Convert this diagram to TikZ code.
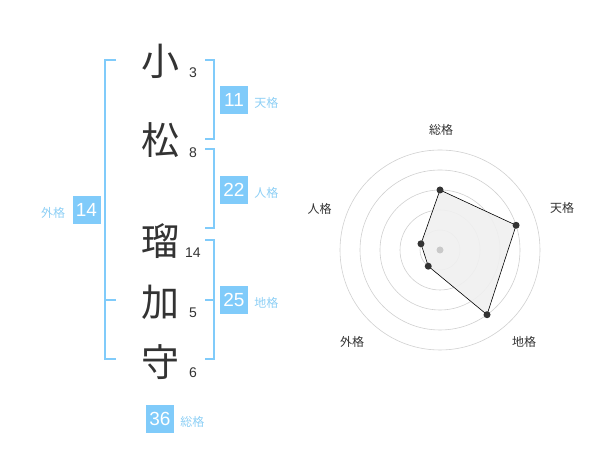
\documentclass[tikz,border=0pt]{standalone}
\usepackage{fontspec}
\setmainfont{Liberation Sans}
\newfontfamily\jp{Noto Sans CJK JP}
\usetikzlibrary{positioning}
\definecolor{kakublue}{HTML}{80CBFA}
\definecolor{kakutext}{HTML}{8DCFF5}
\definecolor{ringgray}{HTML}{D0D0D0}
\definecolor{ink}{HTML}{333333}

\begin{document}
\begin{tikzpicture}[x=1pt,y=1pt,
  kanji/.style={inner sep=0pt,text=ink,font=\jp\fontsize{38}{38}\selectfont},
  strokes/.style={inner sep=0pt,text=ink,font=\fontsize{14}{14}\selectfont},
  numbox/.style={fill=kakublue,text=white,minimum width=28pt,minimum height=28pt,inner sep=0pt,font=\fontsize{19}{19}\selectfont},
  tag/.style={inner sep=0pt,yshift=-3pt,text=kakutext,font=\jp\fontsize{12}{12}\selectfont},
  bracket/.style={draw=kakublue,line width=2pt},
  ring/.style={draw=ringgray,line width=0.6pt},
  vertex/.style={circle,fill=ink,inner sep=0pt,minimum size=7pt},
  axis/.style={inner sep=0pt,text=ink,font=\jp\fontsize{12}{12}\selectfont}]
  \useasboundingbox (0,0) rectangle (600,470);

  % name
  \node[kanji] (k1) at (160,409) {小};
  \node[kanji] (k2) at (160,330) {松};
  \node[kanji] (k3) at (160,229) {瑠};
  \node[kanji] (k4) at (160,168) {加};
  \node[kanji] (k5) at (160,108) {守};
  \node[strokes] (s1) at (193,397) {3};
  \node[strokes] (s2) at (193,317) {8};
  \node[strokes] (s3) at (193,217) {14};
  \node[strokes] (s4) at (193,157) {5};
  \node[strokes] (s5) at (193,97) {6};

  % brackets
  \coordinate (ga) at (116,410); \coordinate (gb) at (105,410);
  \coordinate (gc) at (105,111); \coordinate (gd) at (116,111);
  \coordinate (gm) at (105,170); \coordinate (gn) at (116,170);
  \draw[bracket](ga)--(gb)--(gc)--(gd);
  \draw[bracket](gm)--(gn);

  \coordinate (ta) at (205,410); \coordinate (tb) at (214,410);
  \coordinate (tc) at (214,331); \coordinate (td) at (205,331);
  \draw[bracket](ta)--(tb)--(tc)--(td);

  \coordinate (ja) at (205,321); \coordinate (jb) at (214,321);
  \coordinate (jc) at (214,242); \coordinate (jd) at (205,242);
  \draw[bracket](ja)--(jb)--(jc)--(jd);

  \coordinate (ca) at (205,230); \coordinate (cb) at (214,230);
  \coordinate (cc) at (214,111); \coordinate (cd) at (205,111);
  \coordinate (cm) at (214,170); \coordinate (cn) at (205,170);
  \draw[bracket](ca)--(cb)--(cc)--(cd);
  \draw[bracket](cm)--(cn);

  % boxes
  \node[numbox] (ten) at (234,370) {11};
  \node[numbox] (jin) at (234,280) {22};
  \node[numbox] (chi) at (234,170) {25};
  \node[numbox] (gai) at (86.5,260) {14};
  \node[numbox] (sou) at (160,51) {36};
  \node[tag,right=6pt of ten] (tenl) {天格};
  \node[tag,right=6pt of jin] (jinl) {人格};
  \node[tag,right=6pt of chi] (chil) {地格};
  \node[tag,left=7pt of gai] (gail) {外格};
  \node[tag,right=6pt of sou] (soul) {総格};

  % radar
  \begin{scope}[shift={(440,220)}]
    \coordinate (c) at (0,0);
    \foreach \r in {20,40,60,80,100}
      \draw[ring] (c) circle (\r pt);
    \coordinate (p1) at (90:60);
    \coordinate (p2) at (18:80);
    \coordinate (p3) at (-54:80);
    \coordinate (p4) at (-126:20);
    \coordinate (p5) at (162:20);
    \fill[black!6,opacity=0.9](p1)--(p2)--(p3)--(p4)--(p5)--cycle;
    \draw[black,line width=0.6pt](p1)--(p2)--(p3)--(p4)--(p5)--cycle;
    \fill[ringgray!90!black!80] (c) circle (3.5pt);
    \foreach \p in {p1,p2,p3,p4,p5}
      \node[vertex] at (\p) {};
  \end{scope}
  \node[axis] (a1) at (441,340) {総格};
  \node[axis] (a2) at (562,262) {天格};
  \node[axis] (a3) at (524,128) {地格};
  \node[axis] (a4) at (352,128) {外格};
  \node[axis] (a5) at (319.5,261) {人格};
\end{tikzpicture}
\end{document}
